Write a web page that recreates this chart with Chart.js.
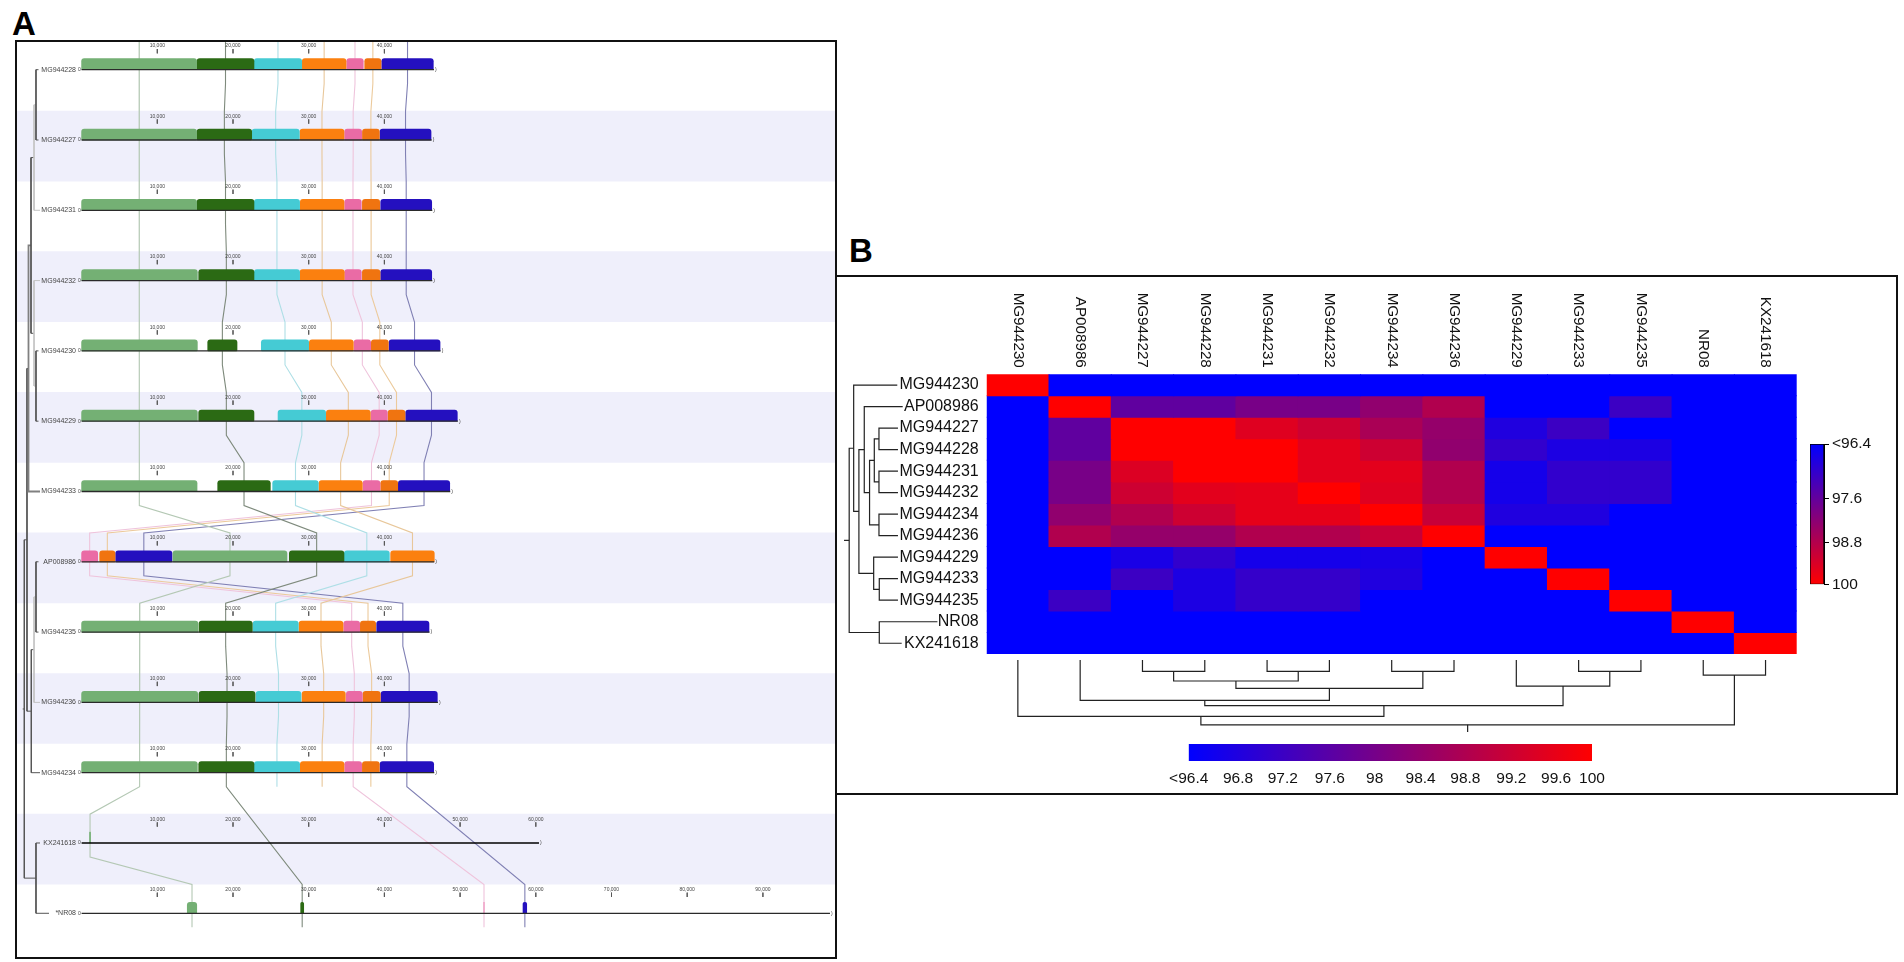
<!DOCTYPE html>
<html>
<head>
<meta charset="utf-8">
<title>Genome alignment and identity heatmap</title>
<script src="https://cdn.jsdelivr.net/npm/chart.js@4"></script>
<style>
    html, body { margin: 0; background: #fff; font-family: "Liberation Sans", sans-serif; }
    canvas { position: absolute; }
    .frame { position: absolute; border: 2px solid #111; box-sizing: border-box; }
    .panel-letter { position: absolute; font-size: 33px; font-weight: bold; line-height: 1; color: #000; }
</style>
</head>
<body>
<div class="panel-letter" style="left:12px;top:7px">A</div>
<div class="panel-letter" style="left:849px;top:234px">B</div>
<canvas id="mapChart" width="819" height="917" style="left:16px;top:41px"></canvas>
<canvas id="heatChart" width="1058" height="516" style="left:838px;top:277px"></canvas>
<canvas id="sideBar" width="90" height="176" style="left:1805px;top:426px"></canvas>
<canvas id="bottomBar" width="490" height="60" style="left:1150px;top:735px"></canvas>
<div class="frame" style="left:15px;top:40px;width:822px;height:919px"></div>
<div class="frame" style="left:835px;top:275px;width:1063px;height:520px"></div>
<script>
// panel A, rows top to bottom
const mapRows = ['MG944228','MG944227','MG944231','MG944232','MG944230','MG944229','MG944233','AP008986','MG944235','MG944236','MG944234','KX241618','*NR08'];
const rowLengths = [46550,46240,46330,46330,47430,49710,48700,46590,45970,47070,46590,60420,98860];
const rowTickCounts = [4,4,4,4,4,4,4,4,4,4,4,6,9];
const stripeRows = [1,3,5,7,9,11];

// collinear blocks in bp, one entry per row
const lightGreenBlocks = [[0,15200],[0,15200],[0,15200],[0,15290],[0,15290],[0,15290],[0,15250],[12070,27130],[0,15380],[0,15340],[0,15290],[1050,1180],[13960,15210]];
const darkGreenBlocks = [[15250,22770],[15250,22470],[15250,22770],[15470,22770],[16660,20530],[15470,22770],[17980,24930],[27440,34660],[15510,22550],[15510,22910],[15470,22770],null,[28940,29340]];
const cyanBlocks = [[22800,29080],[22510,28760],[22810,28800],[22810,28800],[23740,30000],[25950,32240],[25240,31270],[34700,40650],[22640,28630],[23040,28980],[22810,28800],null,null];
const orangeBlocks = [[29150,34930],[28850,34660],[28890,34660],[28850,34700],[30080,35890],[32330,38140],[31360,37080],[40830,46590],[28720,34530],[29120,34840],[28890,34660],null,null];
const pinkBlocks = [[35020,37210],[34750,37000],[34750,36950],[34750,36950],[35980,38190],[38230,40390],[37170,39420],[0,2130],[34620,36740],[34970,37080],[34750,37000],null,[53150,53165]];
const deepOrangeBlocks = [[37400,39550],[37100,39330],[37090,39380],[37090,39420],[38270,40520],[40480,42720],[39510,41760],[2390,4410],[36820,38850],[37170,39460],[37090,39330],null,null];
const blueBlocks = [[39650,46460],[39420,46160],[39510,46250],[39510,46250],[40610,47350],[42810,49630],[41840,48630],[4500,11940],[38980,45890],[39550,46990],[39420,46510],null,[58310,58800]];

// guide tree of panel A, heights on the bp scale (negative = left of 0)
const mapTreeMerges = [[0,1],[13,2],[4,5],[3,15],[14,16],[17,6],[7,8],[19,9],[20,10],[18,21],[11,12],[22,23]];
const mapTreeHeights = [-6024,-6288,-6024,-6288,-6684,-7015,-6024,-6288,-6645,-7213,-6024,-7569];
const mapTreeLeafEnds = [-5694,-5694,-5495,-5495,-5694,-5694,-5495,-5694,-5694,-5495,-5495,-5495,-4306];

// panel B
const heatNames = ['MG944230','AP008986','MG944227','MG944228','MG944231','MG944232','MG944234','MG944236','MG944229','MG944233','MG944235','NR08','KX241618'];
const heatValues = [
    [100,96.4,96.4,96.4,96.4,96.4,96.4,96.4,96.4,96.4,96.4,96.4,96.4],
    [96.4,100,97.75,97.75,98.1,98.1,98.45,98.9,96.4,96.4,97.25,96.4,96.4],
    [96.4,97.75,100,100,99.55,99.3,98.8,98.5,96.85,97.25,96.4,96.4,96.4],
    [96.4,97.75,100,100,100,99.6,99.3,98.45,97.1,96.8,96.8,96.4,96.4],
    [96.4,98.1,99.5,100,100,99.6,99.6,98.9,96.7,97.1,97.1,96.4,96.4],
    [96.4,98.1,99.3,99.6,99.65,100,99.55,98.9,96.7,97.1,97.1,96.4,96.4],
    [96.4,98.45,98.9,99.3,99.65,99.65,100,99.2,96.85,96.85,96.4,96.4,96.4],
    [96.4,98.9,98.5,98.5,98.9,98.9,99.2,100,96.4,96.4,96.4,96.4,96.4],
    [96.4,96.4,96.75,97.1,96.7,96.7,96.75,96.4,100,96.4,96.4,96.4,96.4],
    [96.4,96.4,97.25,96.8,97.15,97.15,96.85,96.4,96.4,100,96.4,96.4,96.4],
    [96.4,97.25,96.4,96.8,97.15,97.15,96.4,96.4,96.4,96.4,100,96.4,96.4],
    [96.4,96.4,96.4,96.4,96.4,96.4,96.4,96.4,96.4,96.4,96.4,100,96.4],
    [96.4,96.4,96.4,96.4,96.4,96.4,96.4,96.4,96.4,96.4,96.4,96.4,100]
];
// both heatmap trees share one topology, heights are in cell units away from the grid
const heatTreeMerges = [[2,3],[4,5],[13,14],[6,7],[15,16],[1,17],[9,10],[8,19],[18,20],[0,21],[11,12],[22,23]];
const rowTreeHeights = [1.729,1.729,1.804,1.729,1.880,1.965,1.724,1.814,2.051,2.135,1.724,2.207];
const rowTreeLeafEnds = [1.435,1.348,1.424,1.424,1.424,1.424,1.424,1.424,1.424,1.424,1.424,0.791,1.364];
const colTreeHeights = [0.805,0.805,1.256,0.805,1.6,2.16,0.805,1.49,2.4,2.9,0.98,3.29];
const colTreeLeafEnds = [0.28,0.28,0.28,0.28,0.28,0.28,0.28,0.28,0.28,0.28,0.28,0.28,0.28];

// colour bars, labels sit where the original puts them rather than evenly
const sideBarPositions = [96.4,97.81,98.93,100];
const sideBarLabels = ['<96.4','97.6','98.8','100'];
const bottomBarPositions = [96.4,96.84,97.24,97.66,98.06,98.47,98.87,99.28,99.68,100];
const bottomBarLabels = ['<96.4','96.8','97.2','97.6','98','98.4','98.8','99.2','99.6','100'];

const TEXT_FONT = '"Liberation Sans", Arial, sans-serif';
const GAP = {x: NaN, y: NaN};

function heatColor(value) {
    const t = Math.max(0, Math.min(1, (value - 96.4) / 3.6));
    return 'rgb(' + Math.round(255 * t) + ',0,' + Math.round(255 * (1 - t)) + ')';
}

// one polyline per merge, children positions average like a real dendrogram
function treePaths(merges, heights, leafEnds, stem) {
    const pos = leafEnds.map((_, i) => i);
    const level = leafEnds.slice();
    const paths = merges.map(([a, b], i) => {
        const h = heights[i];
        const path = [[level[a], pos[a]], [h, pos[a]], [h, pos[b]], [level[b], pos[b]]];
        pos.push((pos[a] + pos[b]) / 2);
        level.push(h);
        return path;
    });
    const last = pos.length - 1;
    paths.push([[level[last], pos[last]], [stem, pos[last]]]);
    return paths;
}

function lineSet(data, color, width, extra) {
    return Object.assign({
        type: 'line', indexAxis: 'x', data: data, borderColor: color, borderWidth: width,
        pointRadius: 0, tension: 0, spanGaps: false, fill: false, clip: false, order: 50
    }, extra);
}

function blockSet(blocks, color) {
    const data = [];
    blocks.forEach((b, row) => { if (b) data.push({x: b, y: row - 0.078}); });
    return {
        type: 'bar', data: data, backgroundColor: color, borderWidth: 0, barThickness: 11, grouped: false,
        borderSkipped: false, borderRadius: {topLeft: 3, topRight: 3, bottomLeft: 1, bottomRight: 1}, order: 40
    };
}

// connectors run through each block's midpoint, row to row
function connector(blocks, color) {
    const data = [];
    blocks.forEach((b, row) => {
        if (!b) return;
        const mid = (b[0] + b[1]) / 2;
        data.push({x: mid, y: row - 0.41}, {x: mid, y: row + 0.2});
    });
    return lineSet(data, color, 1.1, {order: 45});
}

const mapDatasets = [];
mapDatasets.push({
    type: 'bar', data: stripeRows.map(row => ({x: [-8666, 99524], y: row + 0.087})),
    backgroundColor: '#efeffb', borderWidth: 0, barThickness: 70, grouped: false, order: 100
});
[[lightGreenBlocks,'#b4c8b4'],[darkGreenBlocks,'#7e8a7c'],[cyanBlocks,'#aedfe6'],[orangeBlocks,'#e8c79a'],[pinkBlocks,'#efc4dc'],[deepOrangeBlocks,'#ecca9c'],[blueBlocks,'#8080b4']]
    .forEach(([blocks, color]) => mapDatasets.push(connector(blocks, color)));
[[lightGreenBlocks,'#74b074'],[darkGreenBlocks,'#2b6a14'],[cyanBlocks,'#45cbd4'],[orangeBlocks,'#fb800f'],[pinkBlocks,'#ea6ba5'],[deepOrangeBlocks,'#f07410'],[blueBlocks,'#2410bf']]
    .forEach(([blocks, color]) => mapDatasets.push(blockSet(blocks, color)));

// sequence backbones
rowLengths.forEach((length, row) => {
    mapDatasets.push(lineSet([{x: 0, y: row}, {x: length, y: row}], row === 11 ? '#000' : '#2a2a2a', row === 11 ? 1.6 : 1.3, {order: 30}));
});

// ruler ticks above each backbone
const tickMarks = [];
rowTickCounts.forEach((count, row) => {
    for (let i = 1; i <= count; i++) {
        tickMarks.push({x: i * 10000, y: row - 0.294}, {x: i * 10000, y: row - 0.232}, GAP);
    }
});
mapDatasets.push(lineSet(tickMarks, '#555', 0.8, {order: 35}));

// guide tree, a few branches are pale or heavy in the original
const paleBranches = [1, 3, 7];
treePaths(mapTreeMerges, mapTreeHeights, mapTreeLeafEnds, -7781).forEach((path, i) => {
    const pale = paleBranches.includes(i);
    mapDatasets.push(lineSet(path.map(p => ({x: p[0], y: p[1]})), pale ? '#c4c4c4' : (i === 5 ? '#808080' : '#555'), i === 5 ? 1.8 : 1, {order: 20}));
});

const mapText = {
    id: 'mapText',
    afterDatasetsDraw(chart) {
        const ctx = chart.ctx, x = chart.scales.x, y = chart.scales.y;
        ctx.save();
        ctx.fillStyle = '#444';
        mapRows.forEach((name, row) => {
            const base = y.getPixelForValue(row);
            const zero = x.getPixelForValue(0);
            ctx.textBaseline = 'middle';
            ctx.textAlign = 'right';
            ctx.font = '7px ' + TEXT_FONT;
            ctx.fillText(name, zero - 5.6, base);
            ctx.font = '5px ' + TEXT_FONT;
            ctx.fillText('0', zero - 0.8, base);
            ctx.textAlign = 'left';
            ctx.fillText(')', x.getPixelForValue(rowLengths[row]) + 1, base);
            ctx.textAlign = 'center';
            for (let i = 1; i <= rowTickCounts[row]; i++) {
                ctx.fillText((i * 10000).toLocaleString('en-US'), x.getPixelForValue(i * 10000), y.getPixelForValue(row - 0.337));
            }
        });
        ctx.restore();
    }
};

new Chart(document.getElementById('mapChart'), {
    type: 'bar',
    data: {datasets: mapDatasets},
    plugins: [mapText],
    options: {
        indexAxis: 'y',
        responsive: false,
        animation: false,
        events: [],
        layout: {padding: 0},
        plugins: {legend: {display: false}, tooltip: {enabled: false}},
        scales: {
            x: {type: 'linear', display: false, min: -8666, max: 99524, offset: false},
            y: {type: 'linear', display: false, min: -0.408, max: 12.636, reverse: true, offset: false}
        }
    }
});

// heatmap: one stacked bar series per row
const heatDatasets = heatValues.map(row => ({
    type: 'bar', data: row.map(() => 1), backgroundColor: row.map(heatColor), borderWidth: 0, grouped: false,
    inflateAmount: 0.5, barPercentage: 1, categoryPercentage: 1, xAxisID: 'x', yAxisID: 'y', order: 10
}));
const treeStyle = {xAxisID: 'treeX', yAxisID: 'treeY', order: 5};
treePaths(heatTreeMerges, rowTreeHeights, rowTreeLeafEnds, 2.29).forEach(path => {
    heatDatasets.push(lineSet(path.map(p => ({x: -p[0], y: p[1] + 0.5})), '#222', 1.2, treeStyle));
});
treePaths(heatTreeMerges, colTreeHeights, colTreeLeafEnds, 3.63).forEach(path => {
    heatDatasets.push(lineSet(path.map(p => ({x: p[1] + 0.5, y: 13 + p[0]})), '#222', 1.2, treeStyle));
});

const columnText = {
    id: 'columnText',
    afterDraw(chart) {
        const ctx = chart.ctx, x = chart.scales.x, top = chart.chartArea.top;
        ctx.save();
        ctx.fillStyle = '#111';
        ctx.font = '15.2px ' + TEXT_FONT;
        ctx.textAlign = 'right';
        ctx.textBaseline = 'middle';
        heatNames.forEach((name, i) => {
            ctx.save();
            ctx.translate(x.getPixelForValue(i), top - 6.5);
            ctx.rotate(Math.PI / 2);
            ctx.fillText(name, 0, 0);
            ctx.restore();
        });
        ctx.restore();
    }
};

new Chart(document.getElementById('heatChart'), {
    type: 'bar',
    data: {labels: heatNames, datasets: heatDatasets},
    plugins: [columnText],
    options: {
        responsive: false,
        animation: false,
        events: [],
        layout: {padding: {left: 8.7, top: 97.3, right: 99.3, bottom: 139}},
        plugins: {legend: {display: false}, tooltip: {enabled: false}},
        scales: {
            x: {type: 'category', display: false, stacked: true, offset: true},
            y: {type: 'linear', display: false, stacked: true, min: 0, max: 13, reverse: true},
            treeX: {type: 'linear', axis: 'x', display: false, min: 0, max: 13, offset: false},
            treeY: {type: 'linear', axis: 'y', display: false, min: 0, max: 13, reverse: true, offset: false},
            rowNames: {
                type: 'category', axis: 'y', position: 'left', labels: heatNames, offset: true,
                afterFit(scale) { scale.width = 140; },
                grid: {display: false, drawTicks: false},
                border: {display: false},
                ticks: {autoSkip: false, padding: 8, color: '#111', font: {family: TEXT_FONT, size: 16}}
            }
        }
    }
});

function barGradient(context, vertical) {
    const area = context.chart.chartArea;
    if (!area) return '#00f';
    const g = vertical
        ? context.chart.ctx.createLinearGradient(0, area.top, 0, area.bottom)
        : context.chart.ctx.createLinearGradient(area.left, 0, area.right, 0);
    g.addColorStop(0, '#0000ff');
    g.addColorStop(1, '#ff0000');
    return g;
}

new Chart(document.getElementById('sideBar'), {
    type: 'bar',
    data: {
        labels: ['identity'],
        datasets: [{
            data: [[96.4, 100]], backgroundColor: c => barGradient(c, true), borderColor: '#000', borderWidth: 1,
            borderSkipped: false, barPercentage: 1, categoryPercentage: 1
        }]
    },
    options: {
        responsive: false,
        animation: false,
        events: [],
        layout: {padding: {left: 5, top: 18, right: 0, bottom: 17.7}},
        plugins: {legend: {display: false}, tooltip: {enabled: false}},
        scales: {
            x: {display: false},
            y: {
                position: 'right', min: 96.4, max: 100, reverse: true,
                afterBuildTicks(scale) { scale.ticks = sideBarPositions.map(v => ({value: v})); },
                afterTickToLabelConversion(scale) { scale.ticks.forEach((t, i) => { t.label = sideBarLabels[i]; }); },
                afterFit(scale) { scale.width = 71; },
                grid: {drawOnChartArea: false, tickLength: 5, color: '#000'},
                border: {color: '#000'},
                ticks: {padding: 3, color: '#111', autoSkip: false, font: {family: TEXT_FONT, size: 15.5}}
            }
        }
    }
});

new Chart(document.getElementById('bottomBar'), {
    type: 'bar',
    data: {
        labels: ['identity'],
        datasets: [{
            data: [[96.4, 100]], backgroundColor: c => barGradient(c, false), borderWidth: 0,
            barPercentage: 1, categoryPercentage: 1
        }]
    },
    options: {
        indexAxis: 'y',
        responsive: false,
        animation: false,
        events: [],
        layout: {padding: {left: 38.7, top: 9, right: 48, bottom: 0}},
        plugins: {legend: {display: false}, tooltip: {enabled: false}},
        scales: {
            y: {display: false},
            x: {
                type: 'linear', min: 96.4, max: 100,
                afterBuildTicks(scale) { scale.ticks = bottomBarPositions.map(v => ({value: v})); },
                afterTickToLabelConversion(scale) { scale.ticks.forEach((t, i) => { t.label = bottomBarLabels[i]; }); },
                afterFit(scale) { scale.height = 34; },
                grid: {display: false, drawTicks: false},
                border: {display: false},
                ticks: {padding: 8, maxRotation: 0, autoSkip: false, color: '#111', font: {family: TEXT_FONT, size: 15.5}}
            }
        }
    }
});
</script>
</body>
</html>
